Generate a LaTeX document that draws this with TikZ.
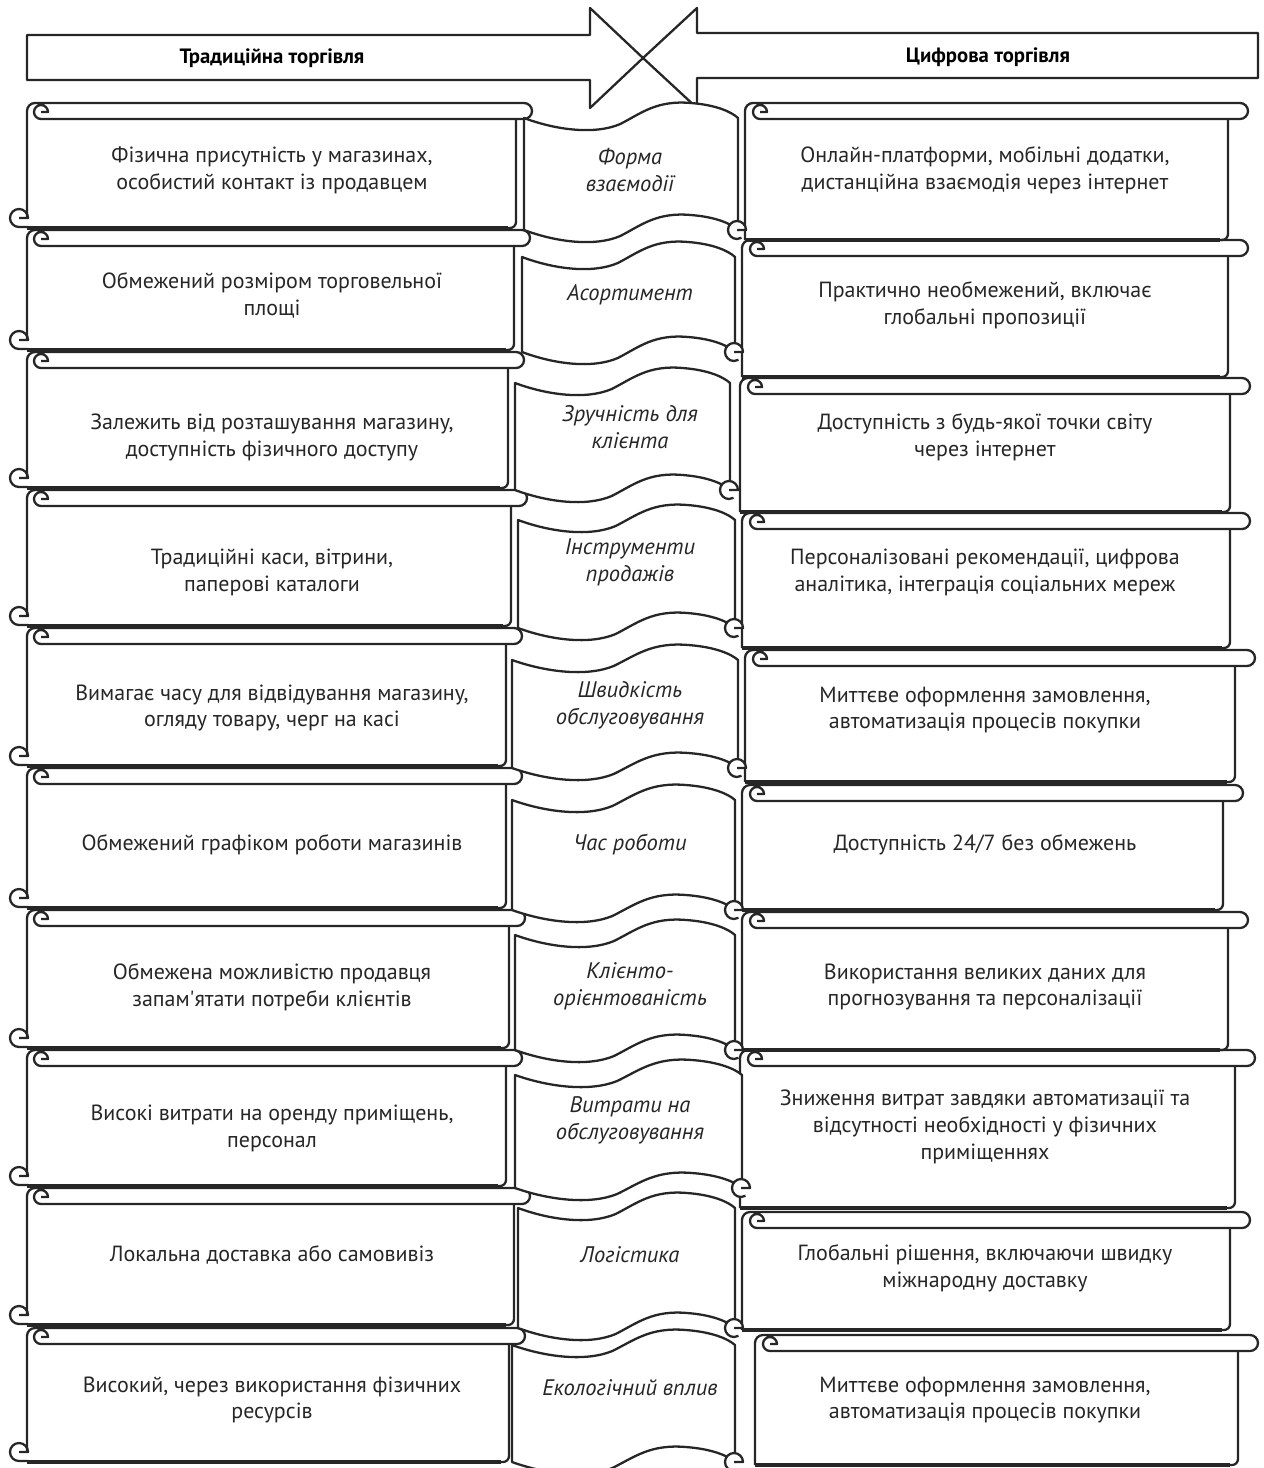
\documentclass[tikz,border=0pt]{standalone}
\usepackage{fontspec}
\setmainfont{PT Sans}
\usetikzlibrary{calc}

% left scroll: name, top, bottom, roll end, text y, text
\newcommand{\leftscroll}[6]{%
  \draw[scrl] (27,#3-10) -- (27,#2+8) arc[start angle=180,end angle=270,radius=8]
    -- (#4-8,#2) arc[start angle=-90,end angle=90,radius=8]
    -- (41,#2+16) arc[start angle=90,end angle=360,radius=7] -- (41,#2+9);
  \draw[scrl] (#4-16,#2+16) -- (#4-16,#3-6) arc[start angle=0,end angle=90,radius=6] -- (27,#3);
  \draw[scrl,line width=2.2pt] (27,#3) -- (#4-24,#3);
  \draw[scrl] (19,#3-10) -- (28,#3-10) arc[start angle=0,end angle=-270,radius=9] -- (28,#3-1);
  \node[txt] (#1) at (272,#5) {#6};
}
% right scroll: name, top, bottom, left edge, roll end, text y, text
\newcommand{\rightscroll}[7]{%
  \draw[scrl] (#4,#3) -- (#4,#2+8) arc[start angle=180,end angle=270,radius=8]
    -- (#5-8,#2) arc[start angle=-90,end angle=90,radius=8]
    -- (#4+15,#2+16) arc[start angle=90,end angle=360,radius=7] -- (#4+15,#2+9);
  \draw[scrl] (#5-20,#2+16) -- (#5-20,#3-6) arc[start angle=0,end angle=90,radius=6] -- (#4,#3);
  \draw[scrl,line width=2.2pt] (#4,#3) -- (#5-28,#3);
  \node[txt] (#1) at (985,#6) {#7};
}
% middle banner: name, left, right, top, bottom, text y, text
\newcommand{\midbanner}[7]{%
  \pgfmathsetmacro\bw{#3-#2}
  \draw[scrl,fill=white] (#2,#4)
    .. controls ({#2+0.15*\bw},{#4+12}) and ({#2+0.33*\bw},{#4+17}) .. ({#2+0.45*\bw},{#4+6})
    .. controls ({#2+0.55*\bw},{#4-5}) and ({#2+0.62*\bw},{#4-18}) .. ({#2+0.78*\bw},{#4-15})
    .. controls ({#2+0.9*\bw},{#4-13}) and ({#2+0.97*\bw},{#4-6}) .. (#3,#4)
    -- (#3,#5)
    .. controls ({#2+0.97*\bw},{#5-6}) and ({#2+0.9*\bw},{#5-13}) .. ({#2+0.78*\bw},{#5-15})
    .. controls ({#2+0.62*\bw},{#5-18}) and ({#2+0.55*\bw},{#5-5}) .. ({#2+0.45*\bw},{#5+6})
    .. controls ({#2+0.33*\bw},{#5+17}) and ({#2+0.15*\bw},{#5+12}) .. (#2,#5) -- cycle;
  \draw[scrl,fill=white] (#3-1,#5) -- (#3+8,#5) arc[start angle=0,end angle=-300,radius=9];
  \node[mid] (#1) at (630,#6) {#7};
}

\begin{document}
\begin{tikzpicture}[x=0.02cm,y=-0.02cm,
  scrl/.style={draw=black!85,line width=1.3pt,line join=round},
  txt/.style={align=center,text=black!85,font=\fontsize{12.5}{15.3}\selectfont},
  mid/.style={txt,font=\itshape\fontsize{12.8}{15.3}\selectfont},
  ttl/.style={text=black,font=\bfseries\fontsize{11.8}{14}\selectfont}]
\useasboundingbox (0,0) rectangle (1264,1468);

% heading arrows
\draw[scrl] (27,35) -- (590,35) -- (590,8) -- (643,58) -- (590,108) -- (590,80) -- (27,80) -- cycle;
\draw[scrl] (1258,33) -- (697,33) -- (697,8) -- (643,58) -- (697,108) -- (697,78) -- (1258,78) -- cycle;
\node[ttl] (trad) at (272,58) {Традиційна торгівля};
\node[ttl] (digit) at (988,57) {Цифрова торгівля};

% traditional trade
\leftscroll{l1}{103}{228}{532}{170}{Фізична присутність у магазинах,\\особистий контакт із продавцем}
\leftscroll{l2}{230}{350}{530}{295}{Обмежений розміром торговельної\\площі}
\leftscroll{l3}{352}{488}{524}{437}{Залежить від розташування магазину,\\доступність фізичного доступу}
\leftscroll{l4}{490}{626}{527}{572}{Традиційні каси, вітрини,\\паперові каталоги}
\leftscroll{l5}{628}{766}{522}{708}{Вимагає часу для відвідування магазину,\\огляду товару, черг на касі}
\leftscroll{l6}{768}{908}{522}{845}{Обмежений графіком роботи магазинів}
\leftscroll{l7}{910}{1048}{525}{987}{Обмежена можливістю продавця\\запам\textquotesingle ятати потреби клієнтів}
\leftscroll{l8}{1050}{1186}{522}{1128}{Високі витрати на оренду приміщень,\\персонал}
\leftscroll{l9}{1188}{1325}{530}{1255}{Локальна доставка або самовивіз}
\leftscroll{l10}{1328}{1462}{525}{1400}{Високий, через використання фізичних\\ресурсів}

% digital trade
\rightscroll{r1}{103}{240}{745}{1248}{170}{Онлайн-платформи, мобільні додатки,\\дистанційна взаємодія через інтернет}
\rightscroll{r2}{240}{377}{742}{1248}{305}{Практично необмежений, включає\\глобальні пропозиції}
\rightscroll{r3}{378}{512}{740}{1250}{437}{Доступність з будь-якої точки світу\\через інтернет}
\rightscroll{r4}{513}{648}{742}{1250}{572}{Персоналізовані рекомендації, цифрова\\аналітика, інтеграція соціальних мереж}
\rightscroll{r5}{650}{782}{745}{1255}{710}{Миттєве оформлення замовлення,\\автоматизація процесів покупки}
\rightscroll{r6}{785}{910}{742}{1243}{845}{Доступність 24/7 без обмежень}
\rightscroll{r7}{912}{1050}{742}{1248}{987}{Використання великих даних для\\прогнозування та персоналізації}
\rightscroll{r8}{1050}{1208}{740}{1255}{1127}{Зниження витрат завдяки автоматизації та\\відсутності необхідності у фізичних\\приміщеннях}
\rightscroll{r9}{1212}{1330}{742}{1250}{1268}{Глобальні рішення, включаючи швидку\\міжнародну доставку}
\rightscroll{r10}{1335}{1465}{755}{1258}{1400}{Миттєве оформлення замовлення,\\автоматизація процесів покупки}

% criteria
\midbanner{m1}{524}{738}{118}{230}{170}{Форма\\взаємодії}
\midbanner{m2}{522}{735}{257}{352}{295}{Асортимент}
\midbanner{m3}{515}{730}{383}{490}{427}{Зручність для\\клієнта}
\midbanner{m4}{518}{735}{520}{628}{562}{Інструменти\\продажів}
\midbanner{m5}{512}{738}{660}{768}{705}{Швидкість\\обслуговування}
\midbanner{m6}{512}{735}{800}{910}{845}{Час роботи}
\midbanner{m7}{515}{735}{935}{1050}{986}{Клієнто-\\орієнтованість}
\midbanner{m8}{515}{742}{1075}{1188}{1120}{Витрати на\\обслуговування}
\midbanner{m9}{518}{735}{1208}{1328}{1255}{Логістика}
\midbanner{m10}{512}{735}{1345}{1462}{1388}{Екологічний вплив}
\end{tikzpicture}
\end{document}
